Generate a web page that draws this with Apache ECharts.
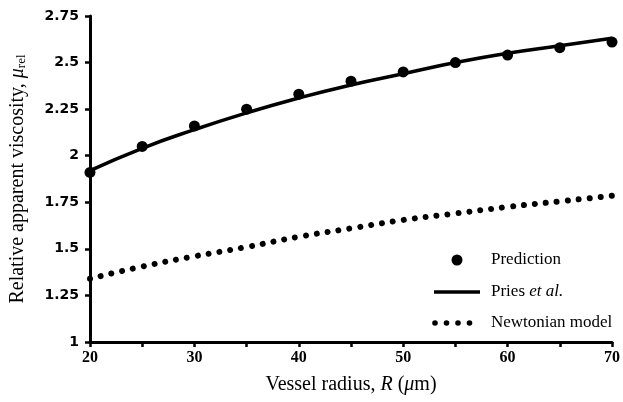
<!DOCTYPE html>
<html>
<head>
<meta charset="utf-8">
<script src="https://cdn.jsdelivr.net/npm/echarts@6/dist/echarts.min.js"></script>
<style>html,body{margin:0;padding:0;background:#fff}#c{width:623px;height:402px}</style>
</head>
<body>
<div id="c"></div>
<script>
// Vessel radius R (µm)
const radius = [20, 25, 30, 35, 40, 45, 50, 55, 60, 65, 70];
// Predicted relative apparent viscosity
const prediction = [1.91, 2.05, 2.16, 2.25, 2.33, 2.40, 2.45, 2.50, 2.54, 2.58, 2.61];
// Pries et al. empirical curve
const pries = [1.92, 2.04, 2.14, 2.23, 2.31, 2.38, 2.44, 2.50, 2.55, 2.59, 2.63];
// Newtonian model
const newtonian = [1.34, 1.405, 1.46, 1.51, 1.565, 1.61, 1.655, 1.69, 1.725, 1.755, 1.785];
const yTicks = [1, 1.25, 1.5, 1.75, 2, 2.25, 2.5, 2.75];

const pair = (ys) => radius.map((x, i) => [x, ys[i]]);
const serif = '"Liberation Serif", "DejaVu Serif", serif';

const chart = echarts.init(document.getElementById('c'), null, {renderer: 'canvas'});
chart.setOption({
  animation: false,
  backgroundColor: '#fff',
  grid: {left: 90, right: 11, top: 16, bottom: 60, containLabel: false, outerBoundsMode: 'none'},
  xAxis: {
    type: 'value', min: 20, max: 70, interval: 5,
    axisLine: {lineStyle: {color: '#000', width: 3}},
    axisTick: {show: true, length: 5, lineStyle: {color: '#000', width: 2.5}},
    splitLine: {show: false},
    axisLabel: {
      color: '#000', fontFamily: serif, fontWeight: 'bold', fontSize: 16, margin: 8,
      formatter: v => (v % 10 === 0 ? String(v) : '')
    },
    name: '{n|Vessel radius, }{i|R}{n| (}{i|μ}{n|m)}',
    nameLocation: 'middle', nameGap: 33,
    nameTextStyle: {
      rich: {
        n: {fontFamily: serif, fontSize: 20, color: '#000'},
        i: {fontFamily: serif, fontSize: 20, color: '#000', fontStyle: 'italic'}
      }
    }
  },
  yAxis: {
    type: 'value', min: yTicks[0], max: yTicks[yTicks.length - 1], interval: 0.25,
    axisLine: {show: true, lineStyle: {color: '#000', width: 3}},
    axisTick: {show: true, length: 5, lineStyle: {color: '#000', width: 2.5}},
    splitLine: {show: false},
    axisLabel: {
      color: '#000', fontFamily: '"DejaVu Sans", sans-serif', fontWeight: 'bold', fontSize: 14, margin: 11
    },
    name: '{n|Relative apparent viscosity, }{i|μ}{s|rel}',
    nameLocation: 'middle', nameGap: 62, nameRotate: 90,
    nameTextStyle: {
      rich: {
        n: {fontFamily: serif, fontSize: 20, color: '#000'},
        i: {fontFamily: serif, fontSize: 20, color: '#000', fontStyle: 'italic'},
        s: {fontFamily: serif, fontSize: 13, color: '#000', verticalAlign: 'bottom', padding: [7, 0, 0, 0]}
      }
    }
  },
  series: [
    {
      name: 'Newtonian model', type: 'line', data: pair(newtonian), smooth: true,
      showSymbol: false, z: 2,
      lineStyle: {color: '#000', width: 6, type: [0.01, 11], cap: 'round'}
    },
    {
      name: 'Pries et al.', type: 'line', data: pair(pries), smooth: true,
      showSymbol: false, z: 3,
      lineStyle: {color: '#000', width: 3.5}
    },
    {
      name: 'Prediction', type: 'scatter', data: pair(prediction), z: 4,
      symbol: 'circle', symbolSize: 11, itemStyle: {color: '#000', opacity: 1}
    }
  ],
  graphic: [
    {type: 'circle', shape: {cx: 457, cy: 260, r: 5.5}, style: {fill: '#000'}},
    {type: 'text', x: 491, y: 260, style: {text: 'Prediction', font: '17px ' + serif, fill: '#000', textVerticalAlign: 'middle'}},
    {type: 'line', shape: {x1: 434, y1: 292, x2: 480, y2: 292}, style: {stroke: '#000', lineWidth: 3.5}},
    {type: 'text', x: 491, y: 292, style: {
      text: '{n|Pries }{i|et al.}', textVerticalAlign: 'middle',
      rich: {n: {fontFamily: serif, fontSize: 17, fill: '#000'}, i: {fontFamily: serif, fontSize: 17, fontStyle: 'italic', fill: '#000'}}
    }},
    {type: 'circle', shape: {cx: 435, cy: 323, r: 2.8}, style: {fill: '#000'}},
    {type: 'circle', shape: {cx: 446.5, cy: 323, r: 2.8}, style: {fill: '#000'}},
    {type: 'circle', shape: {cx: 458, cy: 323, r: 2.8}, style: {fill: '#000'}},
    {type: 'circle', shape: {cx: 469.5, cy: 323, r: 2.8}, style: {fill: '#000'}},
    {type: 'text', x: 491, y: 323, style: {text: 'Newtonian model', font: '17px ' + serif, fill: '#000', textVerticalAlign: 'middle'}}
  ]
});
</script>
</body>
</html>
